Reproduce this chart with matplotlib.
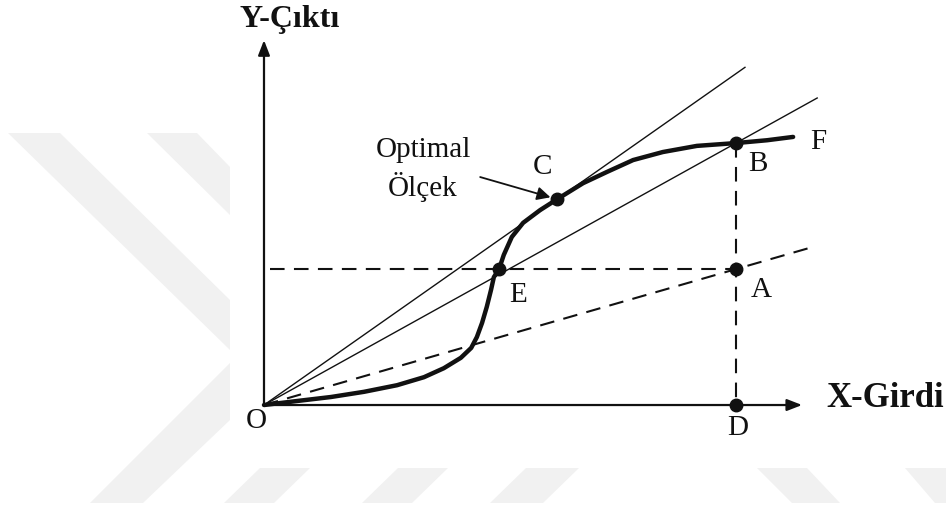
"""Production function sketch: S-shaped output curve with optimal scale point."""
import matplotlib
matplotlib.use('Agg')
import matplotlib.pyplot as plt
from matplotlib.patches import Polygon, FancyArrowPatch

plt.rcParams['font.family'] = ['Liberation Serif', 'DejaVu Serif']

# total product curve O -> F (input, output)
curve_x = [0, 0.70, 1.42, 2.12, 2.82, 3.39, 3.81, 4.17, 4.39, 4.51, 4.62, 4.72,
           4.81, 4.87, 4.98, 5.08, 5.25, 5.49, 5.85, 6.21, 6.76, 7.27, 7.82,
           8.45, 9.17, 10.0, 10.66, 11.21]
curve_y = [0, 0.085, 0.17, 0.28, 0.42, 0.59, 0.78, 1.00, 1.21, 1.44, 1.74, 2.08,
           2.44, 2.71, 2.88, 3.18, 3.56, 3.86, 4.13, 4.36, 4.70, 4.94, 5.19,
           5.36, 5.49, 5.55, 5.61, 5.68]

# named points on the diagram
point_names = ['E', 'C', 'B', 'A', 'D']
point_x = [4.98, 6.21, 10.0, 10.0, 10.0]
point_y = [2.88, 4.36, 5.55, 2.88, 0.0]

# rays from the origin: (through point, end x, style)
rays = [('C', 10.19, '-'), ('B', 11.72, '-'), ('A', 11.59, '--')]

x_axis_end = 11.40
y_axis_end = 7.73

# label offsets in pixels from the point they name
label_offsets = {'O': (-8, -16), 'D': (2, -23), 'A': (25, -21), 'B': (22, -21),
                 'E': (19, -26), 'C': (-15, 32), 'F': (25, -5)}

# faint watermark shapes, pixel coords from the top-left of the image
WATERMARK = [
    [(8, 133), (60, 133), (230, 300), (230, 350)],
    [(147, 133), (197, 133), (230, 167), (230, 215)],
    [(230, 363), (230, 420), (143, 503), (90, 503)],
    [(260, 468), (310, 468), (274, 503), (224, 503)],
    [(398, 468), (448, 468), (412, 503), (362, 503)],
    [(526, 468), (579, 468), (543, 503), (490, 503)],
    [(757, 468), (807, 468), (840, 503), (792, 503)],
    [(905, 468), (946, 468), (946, 503), (935, 503)],
]

W, H = 946, 509
fig = plt.figure(figsize=(W / 100, H / 100), dpi=100)
fig.patch.set_facecolor('white')
for shape in WATERMARK:
    pts = [(px / W, 1 - py / H) for px, py in shape]
    fig.add_artist(Polygon(pts, closed=True, transform=fig.transFigure,
                           facecolor='#f1f1f1', edgecolor='none', zorder=0))

ax = fig.add_axes([0, 0, 1, 1])
ax.patch.set_alpha(0)
ax.set_xlim(-5.593, 14.449)
ax.set_ylim(-2.203, 8.581)
ax.axis('off')

ink = '#111111'

# axes with arrow heads
ax.annotate('', xy=(x_axis_end, 0), xytext=(0, 0),
            arrowprops=dict(arrowstyle='-|>,head_length=0.9,head_width=0.35',
                            color=ink, lw=1.6, shrinkA=0, shrinkB=0))
ax.annotate('', xy=(0, y_axis_end), xytext=(0, 0),
            arrowprops=dict(arrowstyle='-|>,head_length=0.9,head_width=0.35',
                            color=ink, lw=1.6, shrinkA=0, shrinkB=0))

pts = dict(zip(point_names, zip(point_x, point_y)))

for name, x_end, style in rays:
    px, py = pts[name]
    slope = py / px
    if style == '--':
        ax.plot([0, x_end], [0, slope * x_end], color=ink, lw=1.5,
                dashes=(7, 4.5))
    else:
        ax.plot([0, x_end], [0, slope * x_end], color=ink, lw=1.0)

# guide lines E-A and B-D
ax.plot([0.12, pts['A'][0]], [pts['E'][1], pts['A'][1]], color=ink, lw=1.5,
        dashes=(7, 4.5))
ax.plot([pts['B'][0], pts['D'][0]], [pts['B'][1], pts['D'][1]], color=ink,
        lw=1.5, dashes=(7, 4.5))

ax.plot(curve_x, curve_y, color=ink, lw=3.2, solid_capstyle='round',
        solid_joinstyle='round', zorder=4)

ax.plot(point_x, point_y, 'o', color=ink, markersize=9, zorder=5)

labels = dict(pts)
labels['O'] = (0, 0)
labels['F'] = (curve_x[-1], curve_y[-1])
for name, (dx, dy) in label_offsets.items():
    ax.annotate(name, xy=labels[name], xytext=(dx, dy),
                textcoords='offset pixels', ha='center', va='center',
                fontsize=21, color=ink)

# optimal scale callout
ax.text(3.37, 5.40, 'Optimal', ha='center', va='center', fontsize=21, color=ink)
ax.text(3.37, 4.62, 'Ölçek', ha='center', va='center', fontsize=21, color=ink)
ax.add_patch(FancyArrowPatch((4.58, 4.83), pts['C'],
                             arrowstyle='-|>,head_length=8,head_width=4',
                             color=ink, lw=1.3, shrinkA=0, shrinkB=5,
                             zorder=6))

# axis titles
ax.text(0.55, 8.16, 'Y-Çıktı', ha='center', va='center', fontsize=23,
        fontweight='bold', color=ink)
ax.text(11.91, 0.13, 'X-Girdi', ha='left', va='center', fontsize=25,
        fontweight='bold', color=ink)

fig.savefig('out.png', dpi=100, facecolor='white')
